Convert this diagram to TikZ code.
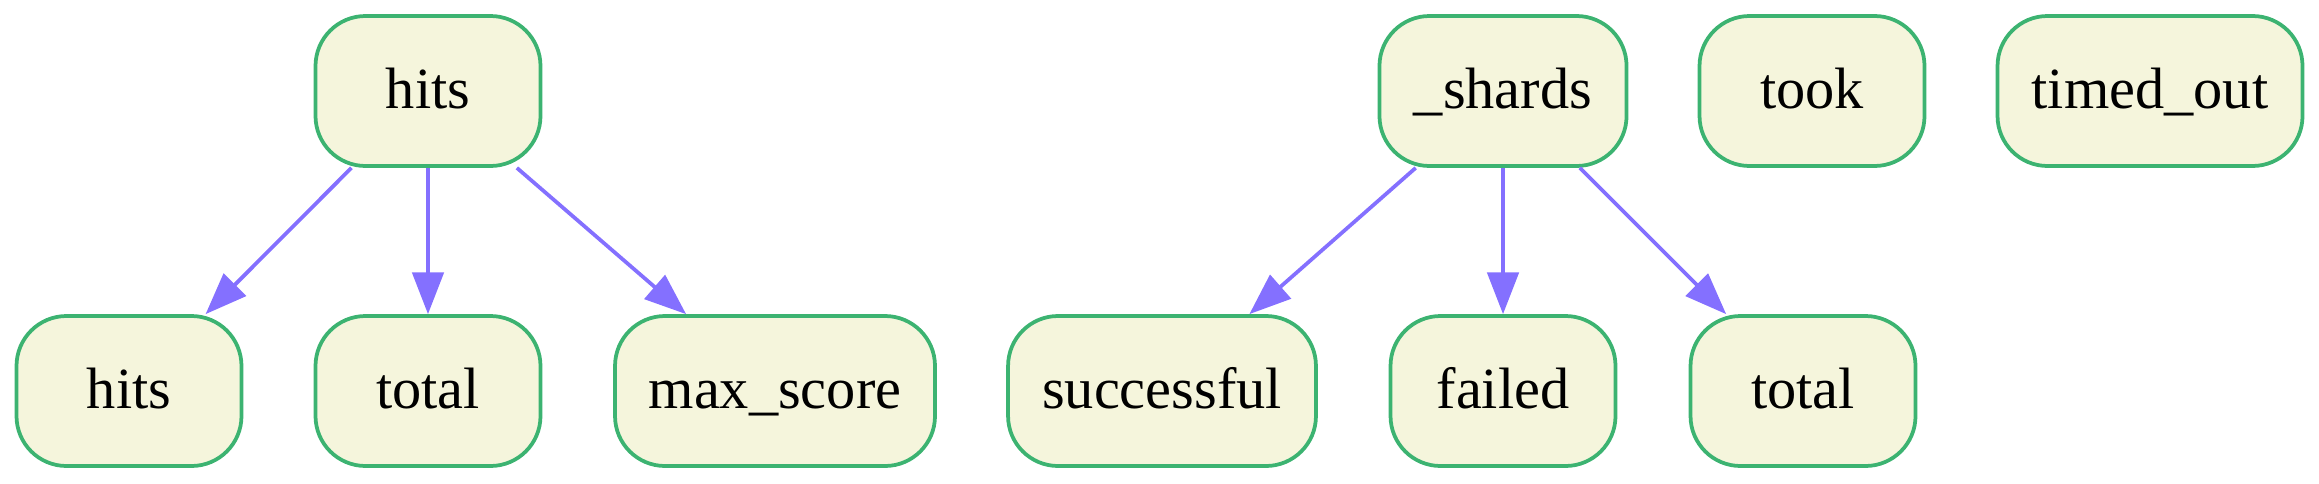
\documentclass[tikz,border=0pt]{standalone}
\usepackage{fontspec}
\setmainfont{Liberation Serif}
\usetikzlibrary{arrows.meta}
\definecolor{nodefill}{HTML}{F5F5DC}
\definecolor{nodeline}{HTML}{3CB371}
\definecolor{edgecol}{HTML}{8470FF}
\begin{document}
\begin{tikzpicture}[x=0.24pt,y=-0.24pt,
  box/.style={draw=nodeline, fill=nodefill, line width=0.9pt, rounded corners=12pt,
    minimum height=36pt, inner sep=0pt, font=\fontsize{14}{16}\selectfont,
    text height=10pt, text depth=1.8pt},
  link/.style={draw=edgecol, line width=0.9pt, -{Triangle[length=10pt,width=7.5pt]}}]
\useasboundingbox (0,0) rectangle (2319,483);
% top row
\node[box, minimum width=54pt]   (hits)   at (428,91)  {hits};
\node[box, minimum width=59.3pt] (shards) at (1503,91) {\_shards};
\node[box, minimum width=54pt]   (took)   at (1812,91) {took};
\node[box, minimum width=73.2pt] (timed)  at (2150,91) {timed\_out};
% bottom row
\node[box, minimum width=54pt]   (hhits)  at (129,391)  {hits};
\node[box, minimum width=54pt]   (htotal) at (428,391)  {total};
\node[box, minimum width=76.8pt] (hmax)   at (775,391)  {max\_score};
\node[box, minimum width=73.9pt] (ssucc)  at (1162,391) {successful};
\node[box, minimum width=54pt]   (sfail)  at (1503,391) {failed};
\node[box, minimum width=54pt]   (stotal) at (1803,391) {total};
% edges
\draw[link] (hits) -- (hhits);
\draw[link] (hits) -- (htotal);
\draw[link] (hits) -- (hmax);
\draw[link] (shards) -- (ssucc);
\draw[link] (shards) -- (sfail);
\draw[link] (shards) -- (stotal);
\end{tikzpicture}
\end{document}
